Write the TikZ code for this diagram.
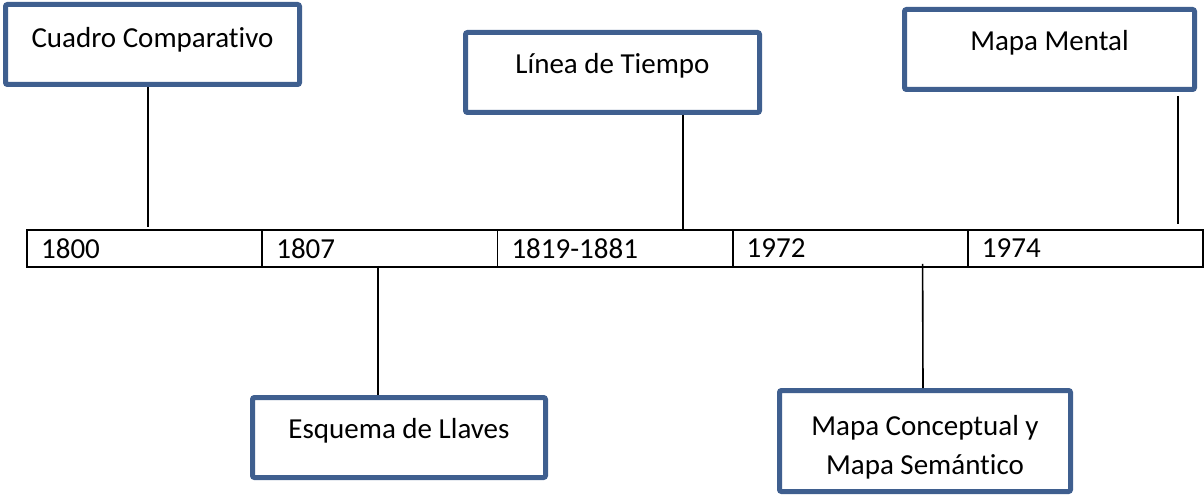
\documentclass[tikz,border=0pt]{standalone}
\usepackage{fontspec}
\setmainfont{Carlito}[Ligatures={NoCommon}]
\definecolor{boxblue}{RGB}{63,95,143}
\begin{document}
\begin{tikzpicture}[x=1pt,y=-1pt,
  box/.style={draw=boxblue,line width=5pt,rounded corners=2pt,fill=white,inner sep=0pt},
  txt/.style={font=\fontsize{29}{39}\selectfont,align=center,inner sep=0pt},
  cell/.style={draw=black,line width=1.6pt,minimum height=37pt,text width=207pt,inner xsep=14pt,inner ysep=0pt,align=left,font=\fontsize{29}{35}\selectfont,anchor=center},
  conn/.style={draw=black,line width=1.6pt}]
\useasboundingbox (0,0) rectangle (1204,497);
% timeline cells
\node[cell] (c1) at (144.6,248.5) {1800};
\node[cell] (c2) at (379.8,248.5) {1807};
\node[cell] (c3) at (615.0,248.5) {1819-1881};
\node[cell] (c4) at (850.2,248.5) {1972};
\node[cell] (c5) at (1085.4,248.5) {1974};
% boxes
\node[box,minimum width=294pt,minimum height=80pt] (cc) at (152.5,44.5) {};
\node[txt] (cct) at (152.5,40) {Cuadro Comparativo};
\node[box,minimum width=294pt,minimum height=80pt] (lt) at (612.5,72.5) {};
\node[txt] (ltt) at (612.5,66) {Línea de Tiempo};
\node[box,minimum width=290pt,minimum height=80pt] (mm) at (1049.5,49.5) {};
\node[txt] (mmt) at (1049.5,43) {Mapa Mental};
\node[box,minimum width=293pt,minimum height=80pt] (el) at (399,437.5) {};
\node[txt] (elt) at (399,431) {Esquema de Llaves};
\node[box,minimum width=291pt,minimum height=101pt] (mc) at (925,441) {};
\node[txt] (mct) at (925,447) {Mapa Conceptual y\\Mapa Semántico};
% connectors
\draw[conn] ([xshift=-4.5pt]cc.south) -- ([xshift=3.4pt,yshift=2pt]c1.north);
\draw[conn] ([xshift=70.5pt]lt.south) -- ([xshift=68pt]c3.north);
\draw[conn] ([xshift=128.5pt,yshift=-4pt]mm.south) -- ([xshift=92.6pt,yshift=5pt]c5.north);
\draw[conn] ([xshift=-1.8pt,yshift=2pt]c2.south) -- ([xshift=-21pt]el.north);
\draw[conn] ([xshift=72.4pt,yshift=4pt]c4.south) -- ([xshift=-2pt]mc.north);
\end{tikzpicture}
\end{document}
